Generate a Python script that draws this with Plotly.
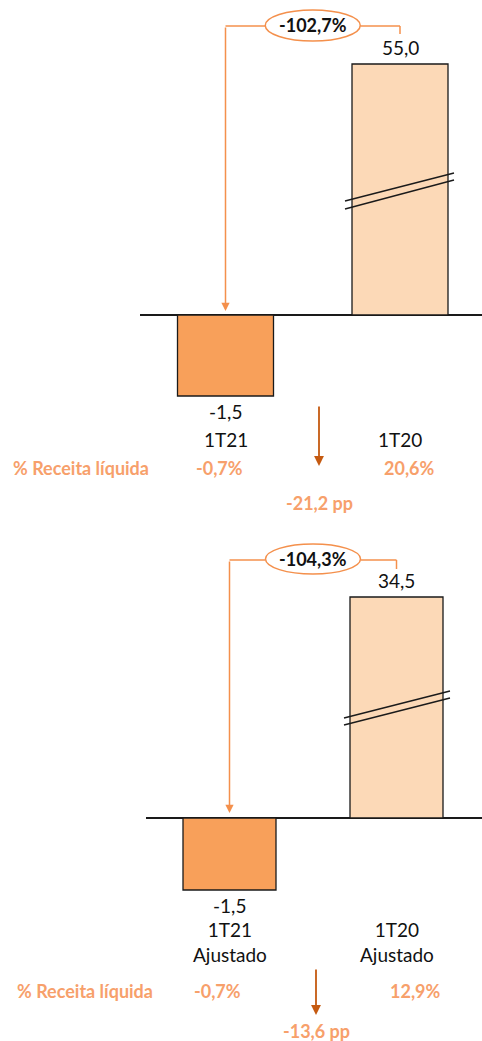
import plotly.graph_objects as go

W, H = 482, 1041

# ---------------- data ----------------
categories1 = ["1T21", "1T20"]
values1 = [-1.5, 55.0]
variation1 = -102.7
margin_pct1 = [-0.7, 20.6]
delta_pp1 = -21.2

categories2 = ["1T21<br>Ajustado", "1T20<br>Ajustado"]
values2 = [-1.5, 34.5]
variation2 = -104.3
margin_pct2 = [-0.7, 12.9]
delta_pp2 = -13.6

row_label = "% Receita líquida"

# ---------------- style ----------------
FONT = "Lato"
BAR_COLORS = ["#F8A05A", "#FCD9B7"]
ORANGE = "#F4904C"
TXT_ORANGE = "#F7A06B"
DARK_ORANGE = "#C55A11"
LBL = 19
BOLD = 18


def fmt(v, d=1):
    return f"{v:.{d}f}".replace(".", ",")


def py(p):  # pixel row -> paper y
    return 1 - p / H


def px(p):
    return p / W


fig = go.Figure()

panels = [
    dict(cats=categories1, vals=values1, var=variation1, pct=margin_pct1, pp=delta_pp1,
         xl="x", yl="y", xu="x2", yu="y2",
         c0=225.5, c1=400.0, left=140, bw=96,
         low_dom=(191, 425), zero=315, ppu=54,
         up_dom=(10, 191), up_lo=45.0, top_px=64,
         ell=(10, 41), conn_y=26, tick_end=34, tip_gap=4,
         brk=[(201, 173), (209, 180)], brk_x=(345, 454),
         cat_y=439, pct_y=468, pct_shift=(-6, 9), lab_x=11,
         arr_x=319, arr=(405, 466), pp_y=503),
    dict(cats=categories2, vals=values2, var=variation2, pct=margin_pct2, pp=delta_pp2,
         xl="x3", yl="y3", xu="x4", yu="y4",
         c0=229.5, c1=396.5, left=146, bw=93,
         low_dom=(708, 930), zero=818, ppu=48,
         up_dom=(530, 708), up_lo=28.0, top_px=597,
         ell=(544, 574), conn_y=560, tick_end=569, tip_gap=5,
         brk=[(718, 691), (725, 698)], brk_x=(344, 450),
         cat_y=942, pct_y=991, pct_shift=(-12, 19), lab_x=15,
         arr_x=316, arr=(968, 1015), pp_y=1031),
]

annotations = []
shapes = []
layout_axes = {}

for P in panels:
    n = len(P["vals"])
    xs = list(range(n))
    spacing = P["c1"] - P["c0"]
    width = P["bw"] / spacing
    for ax_x, ax_y in ((P["xl"], P["yl"]), (P["xu"], P["yu"])):
        fig.add_trace(go.Bar(
            x=xs, y=P["vals"], xaxis=ax_x, yaxis=ax_y, width=width,
            marker=dict(color=BAR_COLORS, line=dict(color="#1a1a1a", width=1.3)),
            hoverinfo="skip", showlegend=False))

    xr = [(P["left"] - P["c0"]) / spacing, (W - P["c0"]) / spacing]
    lo_top, lo_bot = P["low_dom"]
    up_top, up_bot = P["up_dom"]
    low_range = [-(lo_bot - P["zero"]) / P["ppu"], (P["zero"] - lo_top) / P["ppu"]]
    top_val = max(P["vals"])
    ppu_up = (up_bot - P["top_px"]) / (top_val - P["up_lo"])
    up_range = [P["up_lo"], P["up_lo"] + (up_bot - up_top) / ppu_up]

    kx_l = "xaxis" + P["xl"][1:]
    kx_u = "xaxis" + P["xu"][1:]
    ky_l = "yaxis" + P["yl"][1:]
    ky_u = "yaxis" + P["yu"][1:]
    common_x = dict(domain=[px(P["left"]), 1], range=xr, showgrid=False, zeroline=False,
                    showticklabels=False, ticks="", showline=False, fixedrange=True)
    layout_axes[kx_l] = dict(common_x, anchor=P["yl"])
    layout_axes[kx_u] = dict(common_x, anchor=P["yu"], matches=P["xl"])
    layout_axes[ky_l] = dict(domain=[py(lo_bot), py(lo_top)], range=low_range, anchor=P["xl"],
                             showgrid=False, zeroline=True, zerolinecolor="#1a1a1a",
                             zerolinewidth=1.3, showticklabels=False, ticks="", showline=False,
                             fixedrange=True)
    layout_axes[ky_u] = dict(domain=[py(up_bot), py(up_top)], range=up_range, anchor=P["xu"],
                             showgrid=False, zeroline=False, showticklabels=False,
                             ticks="", showline=False, fixedrange=True)

    for i, v in enumerate(P["vals"]):
        if v < 0:
            annotations.append(dict(x=i, y=v, xref=P["xl"], yref=P["yl"], text=fmt(v),
                                    showarrow=False, yanchor="top", yshift=-2,
                                    font=dict(family=FONT, size=LBL, color="#111")))
        else:
            annotations.append(dict(x=i, y=v, xref=P["xu"], yref=P["yu"], text=fmt(v),
                                    showarrow=False, yanchor="bottom", yshift=3,
                                    font=dict(family=FONT, size=LBL, color="#111")))

    for i, c in enumerate(P["cats"]):
        annotations.append(dict(x=i, y=py(P["cat_y"]), xref=P["xl"], yref="paper", text=c,
                                showarrow=False, yanchor="middle",
                                font=dict(family=FONT, size=LBL, color="#111")))

    annotations.append(dict(x=px(P["lab_x"]), y=py(P["pct_y"]), xref="paper", yref="paper",
                            text="<b>" + row_label + "</b>", showarrow=False, xanchor="left",
                            yanchor="middle", font=dict(family=FONT, size=BOLD, color=TXT_ORANGE)))
    for i, v in enumerate(P["pct"]):
        annotations.append(dict(x=i, y=py(P["pct_y"]), xref=P["xl"], yref="paper",
                                text="<b>" + fmt(v) + "%</b>", showarrow=False,
                                xshift=P["pct_shift"][i], yanchor="middle",
                                font=dict(family=FONT, size=BOLD, color=TXT_ORANGE)))

    a0, a1 = P["arr"]
    annotations.append(dict(x=px(P["arr_x"]), y=py(a1), xref="paper", yref="paper", text="",
                            showarrow=True, ax=0, ay=-(a1 - a0), arrowhead=2, arrowsize=1.1,
                            arrowwidth=1.8, arrowcolor=DARK_ORANGE))
    annotations.append(dict(x=px(P["arr_x"]), y=py(P["pp_y"]), xref="paper", yref="paper",
                            text="<b>" + fmt(P["pp"]) + " pp</b>", showarrow=False,
                            yanchor="middle", font=dict(family=FONT, size=BOLD, color=TXT_ORANGE)))

    e_top, e_bot = P["ell"]
    half = 47.5 / spacing
    shapes.append(dict(type="line", xref=P["xl"], yref="paper", x0=0, x1=0.5 - half,
                       y0=py(P["conn_y"]), y1=py(P["conn_y"]), line=dict(color=ORANGE, width=1.5)))
    shapes.append(dict(type="line", xref=P["xl"], yref="paper", x0=0.5 + half, x1=1,
                       y0=py(P["conn_y"]), y1=py(P["conn_y"]), line=dict(color=ORANGE, width=1.5)))
    shapes.append(dict(type="line", xref=P["xl"], yref="paper", x0=1, x1=1,
                       y0=py(P["conn_y"]), y1=py(P["tick_end"]), line=dict(color=ORANGE, width=1.5)))
    shapes.append(dict(type="circle", xref=P["xl"], yref="paper", x0=0.5 - half, x1=0.5 + half,
                       y0=py(e_bot), y1=py(e_top), fillcolor="white",
                       line=dict(color=ORANGE, width=1.5)))
    annotations.append(dict(x=0.5, y=py((e_top + e_bot) / 2), xref=P["xl"], yref="paper",
                            text="<b>" + fmt(P["var"]) + "%</b>", showarrow=False,
                            yanchor="middle", font=dict(family=FONT, size=BOLD, color="#111")))
    annotations.append(dict(x=0, y=0, xref=P["xl"], yref=P["yl"], text="", showarrow=True,
                            ax=0, ay=-(P["zero"] - P["conn_y"]), standoff=P["tip_gap"],
                            arrowhead=2, arrowsize=1.1, arrowwidth=1.5, arrowcolor=ORANGE))

    bx0 = (P["brk_x"][0] - P["c0"]) / spacing
    bx1 = (P["brk_x"][1] - P["c0"]) / spacing
    for y0p, y1p in P["brk"]:
        shapes.append(dict(type="line", xref=P["xl"], yref="paper", x0=bx0, x1=bx1,
                           y0=py(y0p), y1=py(y1p), line=dict(color="#1a1a1a", width=1.3)))

fig.update_layout(
    width=W, height=H, margin=dict(l=0, r=0, t=0, b=0),
    paper_bgcolor="white", plot_bgcolor="rgba(0,0,0,0)",
    font=dict(family=FONT, size=16, color="#111"),
    separators=",.", showlegend=False, hovermode=False,
    annotations=annotations, shapes=shapes,
    **layout_axes,
)

fig.write_html("out.html", config={"displayModeBar": False, "staticPlot": True},
               post_script="document.body.style.margin='0';document.body.style.overflow='hidden';")
